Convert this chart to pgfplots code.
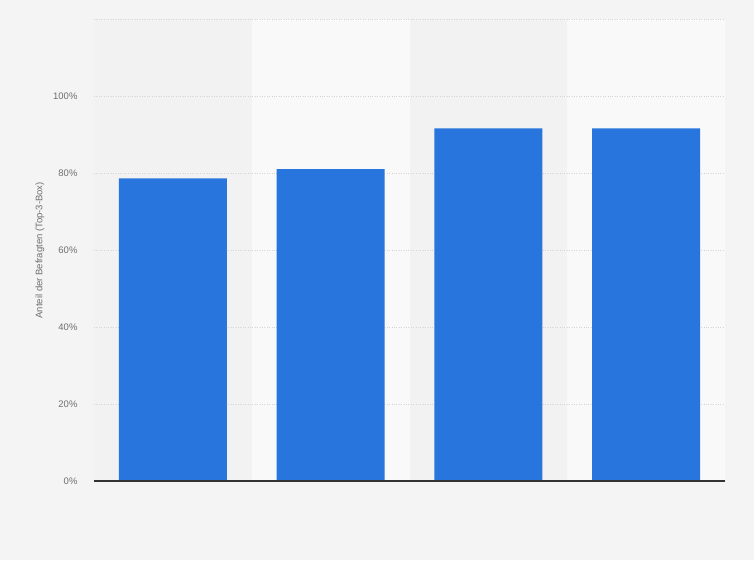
\documentclass[border=0pt]{standalone}
\usepackage{pgfplots}
\pgfplotsset{compat=1.18}
\usepackage{fontspec}
\setmainfont{Liberation Sans}
\definecolor{bgc}{HTML}{F4F4F4}
\definecolor{banddark}{HTML}{F2F2F2}
\definecolor{bandlight}{HTML}{F9F9F9}
\definecolor{barblue}{HTML}{2876DD}
\definecolor{gridc}{HTML}{D4D4D4}
\definecolor{txt}{HTML}{6E6E6E}
\begin{document}
\begin{tikzpicture}[x=1pt,y=1pt]
\begin{axis}[
  set layers,
  at={(94pt,79pt)}, anchor=south west,
  scale only axis, width=631pt, height=461.5pt,
  xmin=-0.5, xmax=3.5, ymin=0, ymax=120,
  axis line style={draw=none},
  xtick=\empty,
  ytick={0,20,...,120},
  yticklabels={0\%,20\%,40\%,60\%,80\%,100\%,},
  ymajorgrids,
  major grid style={gridc, dotted, line width=0.8pt},
  major tick length=0pt,
  yticklabel style={text=txt, font=\fontsize{9.5}{11}\selectfont, xshift=-13pt},
  /pgf/number format/assume math mode=true,
  ylabel={Anteil der Befragten (Top-3-Box)},
  ylabel style={text=txt, font=\fontsize{9.5}{11}\selectfont, at={(axis description cs:0,0.5)}, anchor=center, yshift=54pt},
  ybar, bar width=0.685,
  clip=false,
]
\begin{pgfonlayer}{axis background}
  \fill[bgc] ([xshift=-94pt,yshift=-79pt]rel axis cs:0,0) rectangle ([xshift=29pt,yshift=19.5pt]rel axis cs:1,1);
  \fill[banddark] (axis cs:-0.5,0) rectangle (axis cs:0.5,120);
  \fill[bandlight] (axis cs:0.5,0) rectangle (axis cs:1.5,120);
  \fill[banddark] (axis cs:1.5,0) rectangle (axis cs:2.5,120);
  \fill[bandlight] (axis cs:2.5,0) rectangle (axis cs:3.5,120);
\end{pgfonlayer}
\addplot[fill=barblue, draw=none] coordinates {(0,78.7) (1,81.1) (2,91.7) (3,91.7)};
\draw[color=black!80, line width=1.2pt] (axis cs:-0.5,0) -- (axis cs:3.5,0);
\end{axis}
\end{tikzpicture}
\end{document}
